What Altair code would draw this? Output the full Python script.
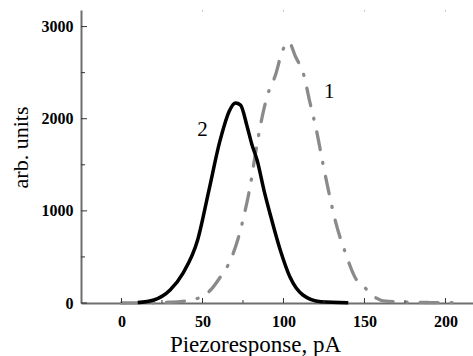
import altair as alt
import pandas as pd

# Curve 1 (grey dash-dot)
x1 = [0, 10, 20, 30, 36.4, 42, 47.5, 55, 61, 67.3, 72, 75.5, 79.6, 82.5, 86.9, 89.9,
      95.1, 99.2, 103.3, 107.4, 112.5, 116.2, 120.8, 124.5, 127.9, 132.1, 138.3,
      144.4, 150.6, 155.7, 163, 175, 190, 205]
y1 = [0, 1, 3, 8, 14, 30, 54, 141, 282, 466, 700, 939, 1283, 1600, 2024, 2241,
      2476, 2729, 2830, 2675, 2476, 2187, 1836, 1500, 1210, 885, 542,
      271, 160, 72, 20, 10, 5, 3]

# Curve 2 (black solid)
x2 = [10, 20, 30, 38, 47, 54, 60.5, 63.5, 66.5, 70.4, 73.5, 77.6, 80.5, 83.7,
      88, 92, 98, 104, 112, 123, 140]
y2 = [5, 33, 141, 325, 683, 1226, 1740, 1930, 2080, 2170, 2148, 1912, 1720,
      1551, 1220, 950, 575, 282, 87, 14, 3]

x_major = [0, 50, 100, 150, 200]
x_minor = [25, 75, 125, 175]
y_major = [0, 1000, 2000, 3000]
y_minor = [500, 1500, 2500]

label_text = ["1", "2"]
label_x = [128.3, 50]
label_y = [2286, 1880]

W, H = 392, 293
SERIF = "Liberation Serif, Times New Roman, Times, DejaVu Serif, serif"

xscale = alt.Scale(domain=[-25, 217], nice=False, zero=False)
yscale = alt.Scale(domain=[0, 3180], nice=False, zero=False)

xaxis = alt.Axis(title="Piezoresponse, pA", values=x_major, format="d", ticks=False,
                 grid=False, labelFont=SERIF, labelFontWeight="bold", labelFontSize=16,
                 labelColor="black", labelPadding=10, labelOverlap=False,
                 domainColor="#6e6e6e", domainWidth=2,
                 titleFont=SERIF, titleFontSize=23, titleFontWeight="normal",
                 titleColor="black", titleX=174, titleY=48, titleBaseline="alphabetic")
yaxis = alt.Axis(title="arb. units", values=y_major, format="d", ticks=False,
                 grid=False, labelFont=SERIF, labelFontWeight="bold", labelFontSize=16,
                 labelColor="black", labelPadding=8, labelOverlap=False,
                 domainColor="#6e6e6e", domainWidth=2,
                 titleFont=SERIF, titleFontSize=22, titleFontWeight="normal",
                 titleColor="black", titleX=-61, titleY=137, titleAngle=-90,
                 titleAlign="center", titleBaseline="middle")

df1 = pd.DataFrame({"x": x1, "y": y1})
df2 = pd.DataFrame({"x": x2, "y": y2})
lab = pd.DataFrame({"x": label_x, "y": label_y, "t": label_text})

X = lambda: alt.X("x:Q", scale=xscale, axis=xaxis)
Y = lambda: alt.Y("y:Q", scale=yscale, axis=yaxis)

line1 = alt.Chart(df1).mark_line(
    color="#8a8a8a", strokeWidth=3.3, strokeDash=[18, 13, 1, 13],
    strokeCap="round", interpolate="monotone"
).encode(x=X(), y=Y())

line2 = alt.Chart(df2).mark_line(
    color="black", strokeWidth=3.5, interpolate="monotone"
).encode(x=X(), y=Y())

labels = alt.Chart(lab).mark_text(font=SERIF, fontSize=21, color="black").encode(
    x=X(), y=Y(), text="t:N")

def yticks(vals, length):
    return alt.Chart(pd.DataFrame({"y": vals})).mark_rule(color="#333333", strokeWidth=1).encode(
        y=Y(), x=alt.value(0), x2=alt.value(length))

def xticks(vals, length):
    return alt.Chart(pd.DataFrame({"x": vals})).mark_rule(color="#333333", strokeWidth=1).encode(
        x=X(), y=alt.value(H), y2=alt.value(H - length))

top_ticks = alt.Chart(pd.DataFrame({"x": x_major[1:]})).mark_rule(color="#bbbbbb", strokeWidth=1).encode(
    x=X(), y=alt.value(0), y2=alt.value(1.5))

chart = alt.layer(
    line1, line2, labels,
    yticks(y_major, 6), yticks(y_minor, 4),
    xticks(x_major, 5), xticks(x_minor, 3),
    top_ticks,
).properties(
    width=W, height=H,
    padding={"left": 81, "top": 10, "right": 0, "bottom": 53},
    autosize=alt.AutoSizeParams(type="none"),
).configure_view(stroke=None)

chart.save("out.html", embed_options={"renderer": "svg", "actions": False})
